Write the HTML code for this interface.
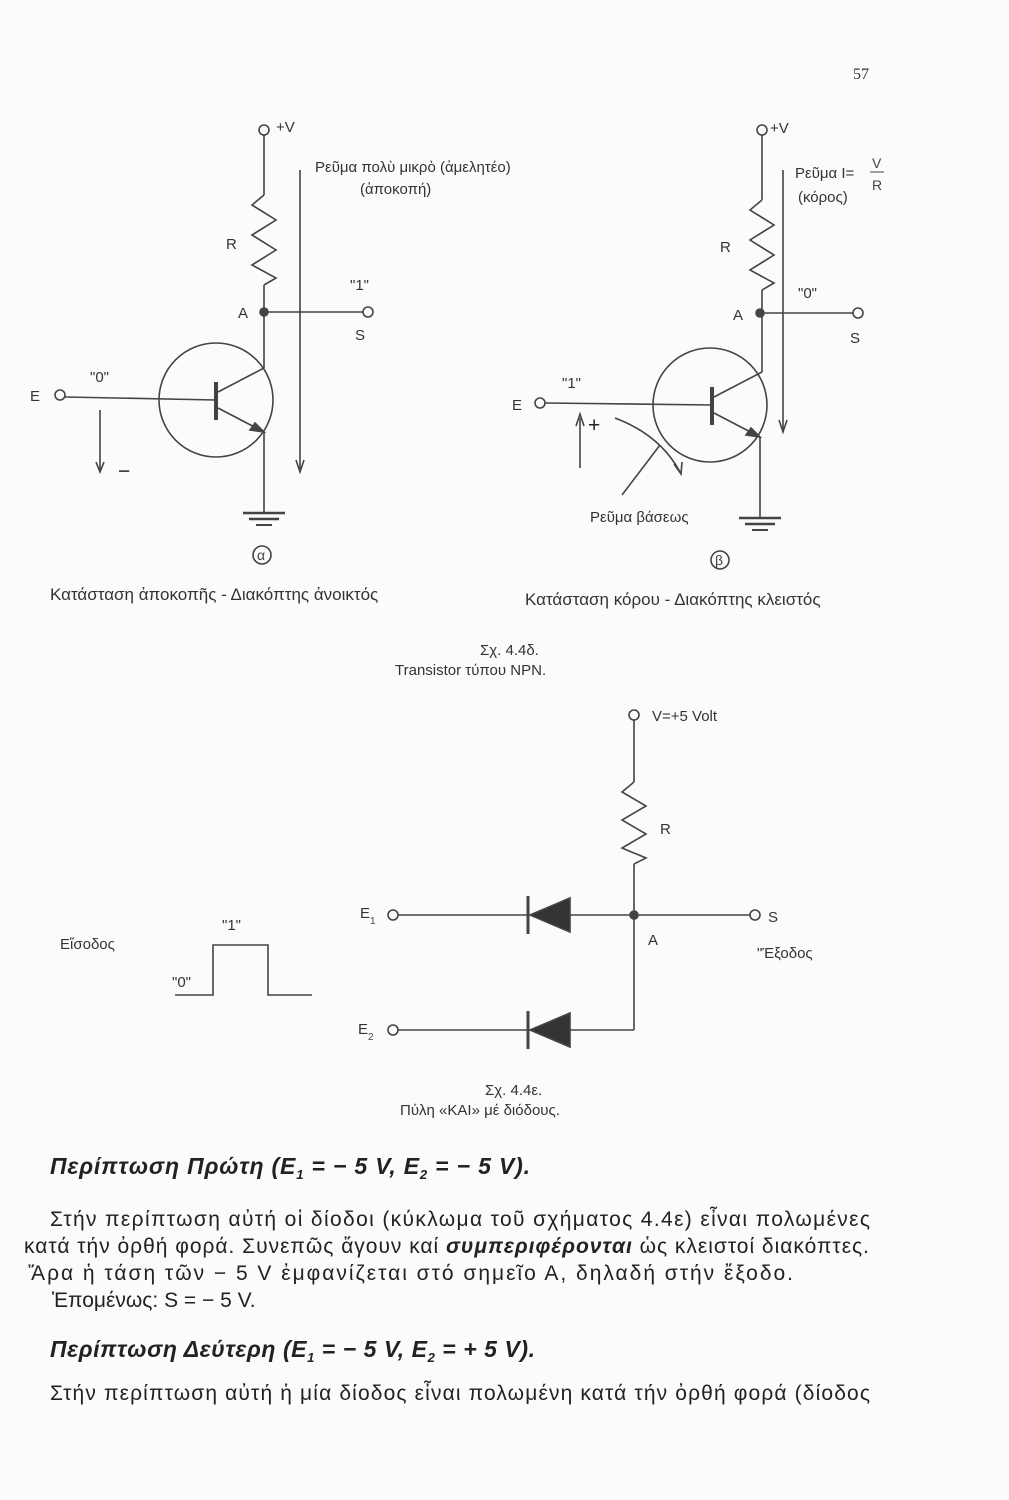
<!DOCTYPE html>
<html><head><meta charset="utf-8"><style>
html,body{margin:0;padding:0;background:#fbfbfa;}
svg{display:block}
text{font-family:"Liberation Sans","DejaVu Sans",sans-serif;fill:#333;}
.b{font-size:21px;fill:#222}
.s{font-size:14px;fill:#444}
.c{font-size:15px;fill:#333}
line,path,polyline,circle{stroke:#444;stroke-width:1.6;fill:none}
</style></head><body>
<svg width="1009" height="1500" viewBox="0 0 1009 1500">
<text x="853" y="79" style="font-family:'Liberation Serif',serif;font-size:16px">57</text>

<!-- Circuit a -->
<circle cx="264" cy="130" r="5"/><text x="276" y="132" class="c">+V</text>
<line x1="264" y1="135" x2="264" y2="195"/>
<polyline points="264,195 252,205 276,220 252,235 276,250 252,265 276,278 264,285"/>
<line x1="264" y1="285" x2="264" y2="368"/>
<text x="226" y="249" class="c">R</text>
<circle cx="264" cy="312" r="4" style="fill:#444"/><text x="238" y="318" class="c">A</text>
<line x1="264" y1="312" x2="363" y2="312"/><circle cx="368" cy="312" r="5"/>
<text x="355" y="340" class="c">S</text><text x="350" y="290" class="c">"1"</text>
<circle cx="216" cy="400" r="57"/>
<line x1="216" y1="382" x2="216" y2="420" style="stroke-width:4"/>
<line x1="264" y1="368" x2="218" y2="392"/>
<line x1="218" y1="408" x2="264" y2="432"/>
<path d="M255,423 L264,432 L250,430 Z" style="fill:#444"/>
<line x1="264" y1="432" x2="264" y2="513"/>
<line x1="243" y1="513" x2="285" y2="513" style="stroke-width:2.5"/>
<line x1="249" y1="519" x2="279" y2="519" style="stroke-width:2.5"/>
<line x1="256" y1="525" x2="272" y2="525" style="stroke-width:2"/>
<circle cx="60" cy="395" r="5"/><text x="30" y="401" class="c">E</text>
<line x1="65" y1="397" x2="216" y2="400"/>
<text x="90" y="382" class="c">"0"</text>
<line x1="100" y1="410" x2="100" y2="470"/><path d="M96,462 L100,472 L104,462" />
<text x="118" y="478" class="b">−</text>
<line x1="300" y1="170" x2="300" y2="470"/><path d="M296,460 L300,472 L304,460"/>
<text x="315" y="172" class="c">Ρεῦμα πολὺ μικρὸ (ἀμελητέο)</text>
<text x="360" y="194" class="c">(ἀποκοπή)</text>
<circle cx="262" cy="555" r="9"/><text x="257" y="560" class="s">α</text>
<text x="50" y="600" class="c" style="font-size:17px">Κατάσταση ἀποκοπῆς - Διακόπτης ἀνοικτός</text>

<!-- Circuit b -->
<circle cx="762" cy="130" r="5"/><text x="770" y="133" class="c">+V</text>
<line x1="762" y1="135" x2="762" y2="200"/>
<polyline points="762,200 750,210 774,225 750,240 774,255 750,270 774,283 762,290"/>
<line x1="762" y1="290" x2="762" y2="372"/>
<text x="720" y="252" class="c">R</text>
<circle cx="760" cy="313" r="4" style="fill:#444"/><text x="733" y="320" class="c">A</text>
<line x1="760" y1="313" x2="853" y2="313"/><circle cx="858" cy="313" r="5"/>
<text x="850" y="343" class="c">S</text><text x="798" y="298" class="c">"0"</text>
<circle cx="710" cy="405" r="57"/>
<line x1="712" y1="387" x2="712" y2="425" style="stroke-width:4"/>
<line x1="762" y1="372" x2="714" y2="397"/>
<line x1="714" y1="413" x2="760" y2="437"/>
<path d="M751,428 L760,437 L746,435 Z" style="fill:#444"/>
<line x1="760" y1="437" x2="760" y2="518"/>
<line x1="739" y1="518" x2="781" y2="518" style="stroke-width:2.5"/>
<line x1="745" y1="524" x2="775" y2="524" style="stroke-width:2.5"/>
<line x1="752" y1="530" x2="768" y2="530" style="stroke-width:2"/>
<circle cx="540" cy="403" r="5"/><text x="512" y="410" class="c">E</text>
<line x1="545" y1="403" x2="712" y2="405"/>
<text x="562" y="388" class="c">"1"</text>
<line x1="580" y1="468" x2="580" y2="418"/><path d="M576,426 L580,414 L584,426"/>
<text x="588" y="432" class="b">+</text>
<path d="M615,418 Q660,435 680,472"/><path d="M674,464 L681,474 L682,462"/>
<line x1="622" y1="495" x2="660" y2="445"/>
<line x1="783" y1="170" x2="783" y2="430"/><path d="M779,420 L783,432 L787,420"/>
<text x="795" y="178" class="c">Ρεῦμα I=</text><text x="872" y="168" class="s">V</text>
<line x1="870" y1="172" x2="884" y2="172" style="stroke-width:1"/><text x="872" y="190" class="s">R</text>
<text x="798" y="202" class="c">(κόρος)</text>
<text x="590" y="522" class="c">Ρεῦμα βάσεως</text>
<circle cx="720" cy="560" r="9"/><text x="715" y="565" class="s">β</text>
<text x="525" y="605" class="c" style="font-size:17px">Κατάσταση κόρου - Διακόπτης κλειστός</text>

<text x="480" y="655" class="c">Σχ. 4.4δ.</text>
<text x="395" y="675" class="c">Transistor τύπου NPN.</text>

<!-- AND gate -->
<circle cx="634" cy="715" r="5"/><text x="652" y="721" class="c">V=+5 Volt</text>
<line x1="634" y1="720" x2="634" y2="782"/>
<polyline points="634,782 622,792 646,806 622,820 646,834 622,848 646,858 634,864"/>
<line x1="634" y1="864" x2="634" y2="1030"/>
<text x="660" y="834" class="c">R</text>
<circle cx="634" cy="915" r="4" style="fill:#444"/><text x="648" y="945" class="c">A</text>
<circle cx="393" cy="915" r="5"/><text x="360" y="918" class="c">E</text><text x="370" y="924" class="s" style="font-size:10px">1</text>
<line x1="398" y1="915" x2="750" y2="915"/><circle cx="755" cy="915" r="5"/>
<text x="768" y="922" class="c">S</text>
<path d="M530,915 L570,898 L570,932 Z" style="fill:#333"/><line x1="528" y1="896" x2="528" y2="934" style="stroke-width:3"/>
<circle cx="393" cy="1030" r="5"/><text x="358" y="1034" class="c">E</text><text x="368" y="1040" class="s" style="font-size:10px">2</text>
<line x1="398" y1="1030" x2="634" y2="1030"/>
<path d="M530,1030 L570,1013 L570,1047 Z" style="fill:#333"/><line x1="528" y1="1011" x2="528" y2="1049" style="stroke-width:3"/>
<text x="757" y="958" class="c">"Έξοδος</text>
<text x="60" y="949" class="c">Εἴσοδος</text>
<polyline points="175,995 213,995 213,945 268,945 268,995 312,995"/>
<text x="222" y="930" class="c">"1"</text><text x="172" y="987" class="c">"0"</text>
<text x="485" y="1095" class="c">Σχ. 4.4ε.</text>
<text x="400" y="1115" class="c">Πύλη «ΚΑΙ» μέ διόδους.</text>

<!-- Text -->
<text x="50" y="1174" class="b" style="font-style:italic;font-weight:bold;font-size:23px" textLength="480" lengthAdjust="spacing">Περίπτωση Πρώτη (E<tspan font-size="13" dy="5">1</tspan><tspan dy="-5"> = − 5 V, E</tspan><tspan font-size="13" dy="5">2</tspan><tspan dy="-5"> = − 5 V).</tspan></text>
<text x="50" y="1226" class="b" textLength="820">Στήν περίπτωση αὐτή οἱ δίοδοι (κύκλωμα τοῦ σχήματος 4.4ε) εἶναι πολωμένες</text>
<text x="24" y="1253" class="b" textLength="845">κατά τήν ὀρθή φορά. Συνεπῶς ἄγουν καί <tspan font-weight="bold" font-style="italic">συμπεριφέρονται</tspan> ὡς κλειστοί διακόπτες.</text>
<text x="28" y="1280" class="b" textLength="765">Ἄρα ἡ τάση τῶν − 5 V ἐμφανίζεται στό σημεῖο Α, δηλαδή στήν ἔξοδο.</text>
<text x="52" y="1307" class="b">Ἑπομένως: S = − 5 V.</text>
<text x="50" y="1357" class="b" style="font-style:italic;font-weight:bold;font-size:23px" textLength="485" lengthAdjust="spacing">Περίπτωση Δεύτερη (E<tspan font-size="13" dy="5">1</tspan><tspan dy="-5"> = − 5 V, E</tspan><tspan font-size="13" dy="5">2</tspan><tspan dy="-5"> = + 5 V).</tspan></text>
<text x="50" y="1400" class="b" textLength="820">Στήν περίπτωση αὐτή ἡ μία δίοδος εἶναι πολωμένη κατά τήν ὀρθή φορά (δίοδος</text>
</svg>
</body></html>
